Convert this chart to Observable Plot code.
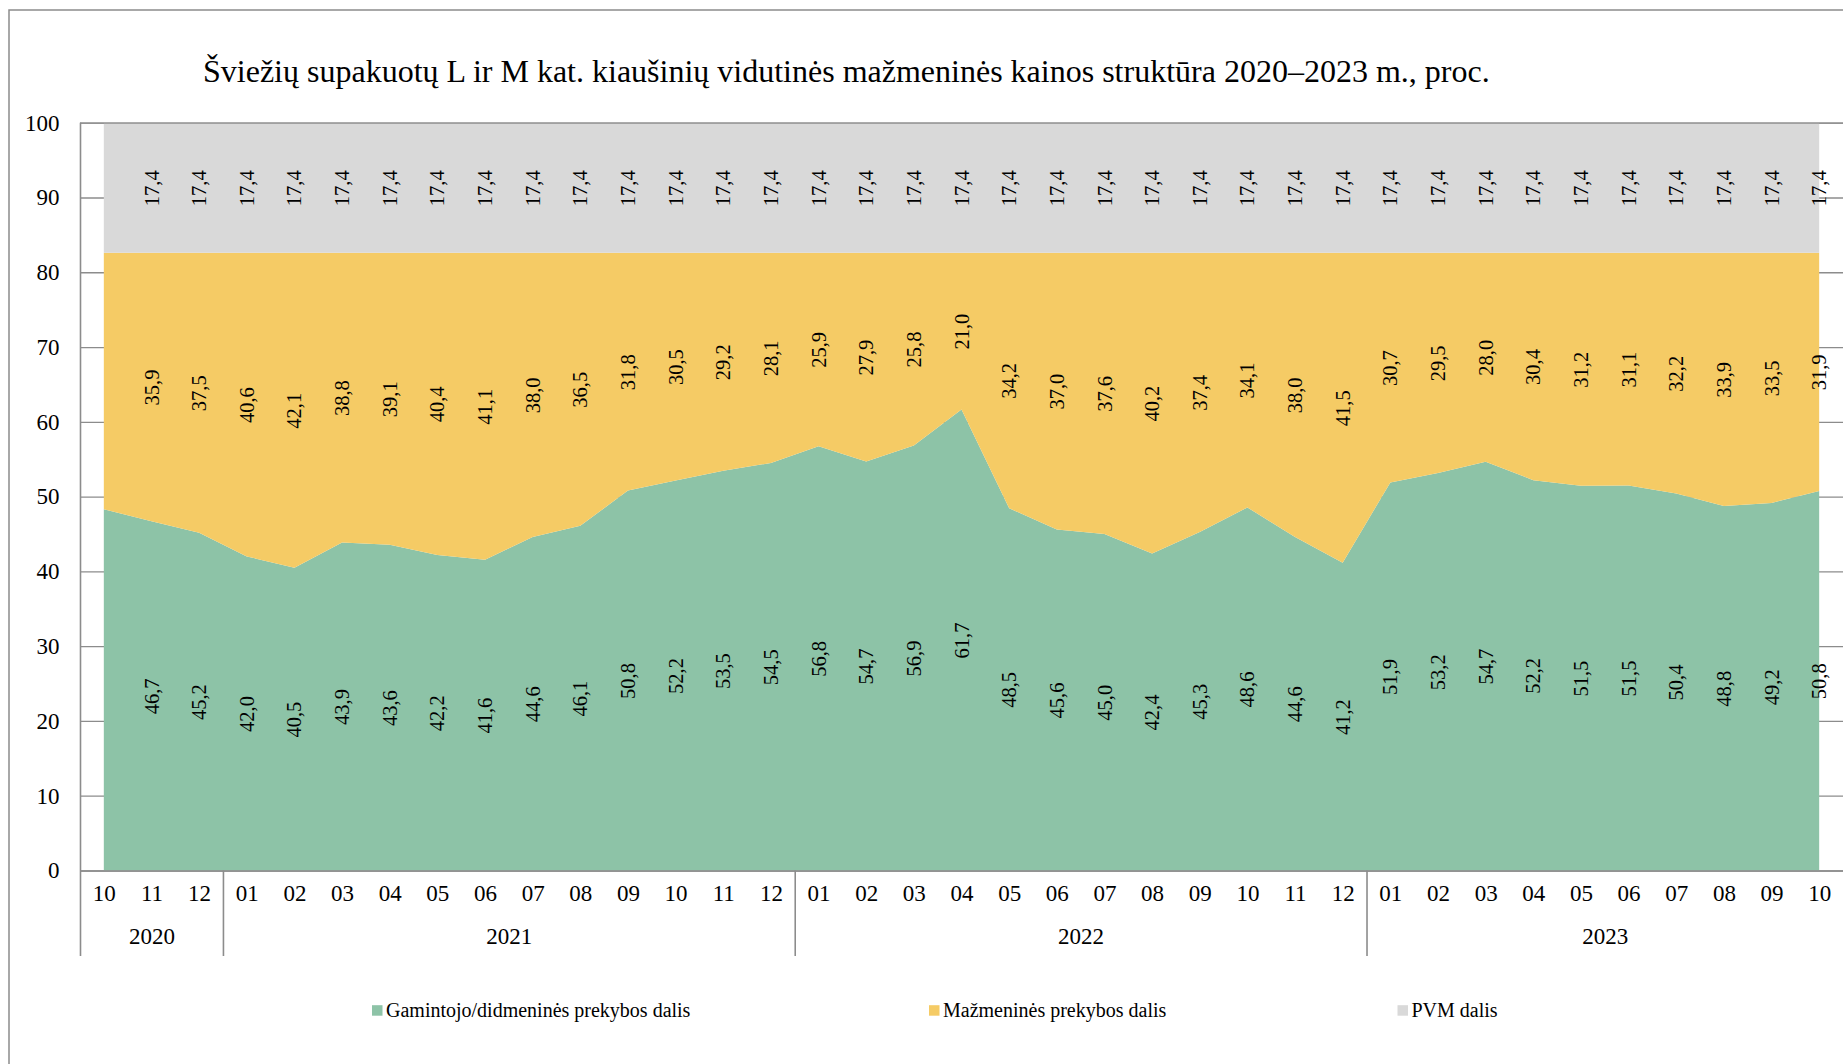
<!DOCTYPE html>
<html><head><meta charset="utf-8">
<script src="https://cdn.jsdelivr.net/npm/d3@7"></script>
<script src="https://cdn.jsdelivr.net/npm/@observablehq/plot@0.6"></script>
<style>html,body{margin:0;padding:0;background:#fff;overflow:hidden}</style>
</head><body><div id="chart"></div>
<script>
// ---- data ----
const titleText = "Šviežių supakuotų L ir M kat. kiaušinių vidutinės mažmeninės kainos struktūra 2020–2023 m., proc.";
const monthLabels = ["10","11","12",
  "01","02","03","04","05","06","07","08","09","10","11","12",
  "01","02","03","04","05","06","07","08","09","10","11","12",
  "01","02","03","04","05","06","07","08","09","10"];
const yearLabels = ["2020","2021","2022","2023"];
const yearMonthCounts = [3, 12, 12, 10];
const seriesNames = ["Gamintojo/didmeninės prekybos dalis", "Mažmeninės prekybos dalis", "PVM dalis"];
const seriesColors = ["#8dc3a7", "#f5cb65", "#d9d9d9"];
// first month (2020-10) is unlabelled in the original: values
const producerShare = [48.3, 46.7, 45.2,
  42.0, 40.5, 43.9, 43.6, 42.2, 41.6, 44.6, 46.1, 50.8, 52.2, 53.5, 54.5,
  56.8, 54.7, 56.9, 61.7, 48.5, 45.6, 45.0, 42.4, 45.3, 48.6, 44.6, 41.2,
  51.9, 53.2, 54.7, 52.2, 51.5, 51.5, 50.4, 48.8, 49.2, 50.8];
const retailShare = [34.3, 35.9, 37.5,
  40.6, 42.1, 38.8, 39.1, 40.4, 41.1, 38.0, 36.5, 31.8, 30.5, 29.2, 28.1,
  25.9, 27.9, 25.8, 21.0, 34.2, 37.0, 37.6, 40.2, 37.4, 34.1, 38.0, 41.5,
  30.7, 29.5, 28.0, 30.4, 31.2, 31.1, 32.2, 33.9, 33.5, 31.9];
const vatShare = [17.4, 17.4, 17.4,
  17.4, 17.4, 17.4, 17.4, 17.4, 17.4, 17.4, 17.4, 17.4, 17.4, 17.4, 17.4,
  17.4, 17.4, 17.4, 17.4, 17.4, 17.4, 17.4, 17.4, 17.4, 17.4, 17.4, 17.4,
  17.4, 17.4, 17.4, 17.4, 17.4, 17.4, 17.4, 17.4, 17.4, 17.4];
const yTicks = [0, 10, 20, 30, 40, 50, 60, 70, 80, 90, 100];

// ---- layout ----
const FONT = '"Liberation Serif", "Times New Roman", serif';
const W = 1843, H = 1064;
const mL = 80, mR = 0, mT = 122.7, mB = H - 870.5;
const GRID = "#8c8c8c";
const plotH = H - mT - mB;
const sepDepth = -85.5 / plotH; // separators extend below axis (normalized y units)

const seriesValues = [producerShare, retailShare, vatShare];
const rows = [];
seriesValues.forEach((vals, s) => vals.forEach((v, i) => rows.push({i, series: seriesNames[s], value: v})));
const labelRows = rows.filter(d => d.i > 0);

let acc = 0;
const yearGroups = yearLabels.map((label, k) => {
  const g = {label, start: acc, end: acc + yearMonthCounts[k] - 1};
  acc += yearMonthCounts[k];
  return g;
});
const innerBoundaries = yearGroups.slice(0, -1).map(g => g.end + 0.5);
const fmt = v => v.toFixed(1).replace(".", ",");

const chart = Plot.plot({
  width: W, height: H,
  marginLeft: mL, marginRight: mR, marginTop: mT, marginBottom: mB,
  style: {fontFamily: FONT, background: "white", color: "black", overflow: "visible"},
  x: {type: "linear", domain: [-0.5, monthLabels.length - 0.5], axis: null},
  y: {domain: [0, 1], axis: null},
  color: {domain: seriesNames, range: seriesColors},
  marks: [
    Plot.ruleY(yTicks, {y: d => d / 100, stroke: GRID, strokeWidth: 1.3, strokeOpacity: 1}),
    Plot.areaY(rows, Plot.stackY({x: "i", y: "value", fill: "series", z: "series", order: seriesNames, offset: "normalize"})),
    Plot.ruleY([1], {stroke: GRID, strokeWidth: 1.3, strokeOpacity: 1}),
    Plot.ruleY([0], {stroke: GRID, strokeWidth: 1.6, strokeOpacity: 1}),
    Plot.ruleX([-0.5], {y1: sepDepth, y2: 1, stroke: GRID, strokeWidth: 1.6, strokeOpacity: 1}),
    Plot.ruleX(innerBoundaries, {y1: sepDepth, y2: 0, stroke: GRID, strokeWidth: 1.6, strokeOpacity: 1}),
    Plot.text(labelRows, Plot.stackY({
      x: "i", y: "value", z: "series", order: seriesNames, offset: "normalize",
      text: d => fmt(d.value), rotate: -90, fontSize: 20.5, fill: "black"
    })),
    Plot.text(yTicks, {y: d => d / 100, text: d => String(d), frameAnchor: "left", textAnchor: "end", dx: -21, fontSize: 23, fill: "black"}),
    Plot.text(monthLabels, {x: (d, i) => i, text: d => d, frameAnchor: "bottom", dy: 29.5, fontSize: 23, fill: "black"}),
    Plot.text(yearGroups, {x: g => (g.start + g.end) / 2, text: "label", frameAnchor: "bottom", dy: 72.5, fontSize: 23, fill: "black"})
  ]
});

document.getElementById("chart").appendChild(chart);

// decorations: outer frame, title, legend
const svg = d3.select(chart);
svg.append("path")
  .attr("d", `M9,${H + 5}V10H${W + 5}`)
  .attr("fill", "none").attr("stroke", GRID).attr("stroke-width", 1.5);
svg.append("text")
  .attr("x", 203).attr("y", 82).attr("text-anchor", "start")
  .attr("font-family", FONT).attr("font-size", 32).attr("fill", "black")
  .text(titleText);
const legendSwatchX = [372, 929, 1397.5];
const lg = svg.append("g");
seriesNames.forEach((name, k) => {
  lg.append("rect").attr("x", legendSwatchX[k]).attr("y", 1005.2).attr("width", 10.5).attr("height", 10.5)
    .attr("fill", seriesColors[k]);
  lg.append("text").attr("x", legendSwatchX[k] + 14).attr("y", 1016.7).attr("text-anchor", "start")
    .attr("font-family", FONT).attr("font-size", 20).attr("fill", "black").text(name);
});
</script>
</body></html>
